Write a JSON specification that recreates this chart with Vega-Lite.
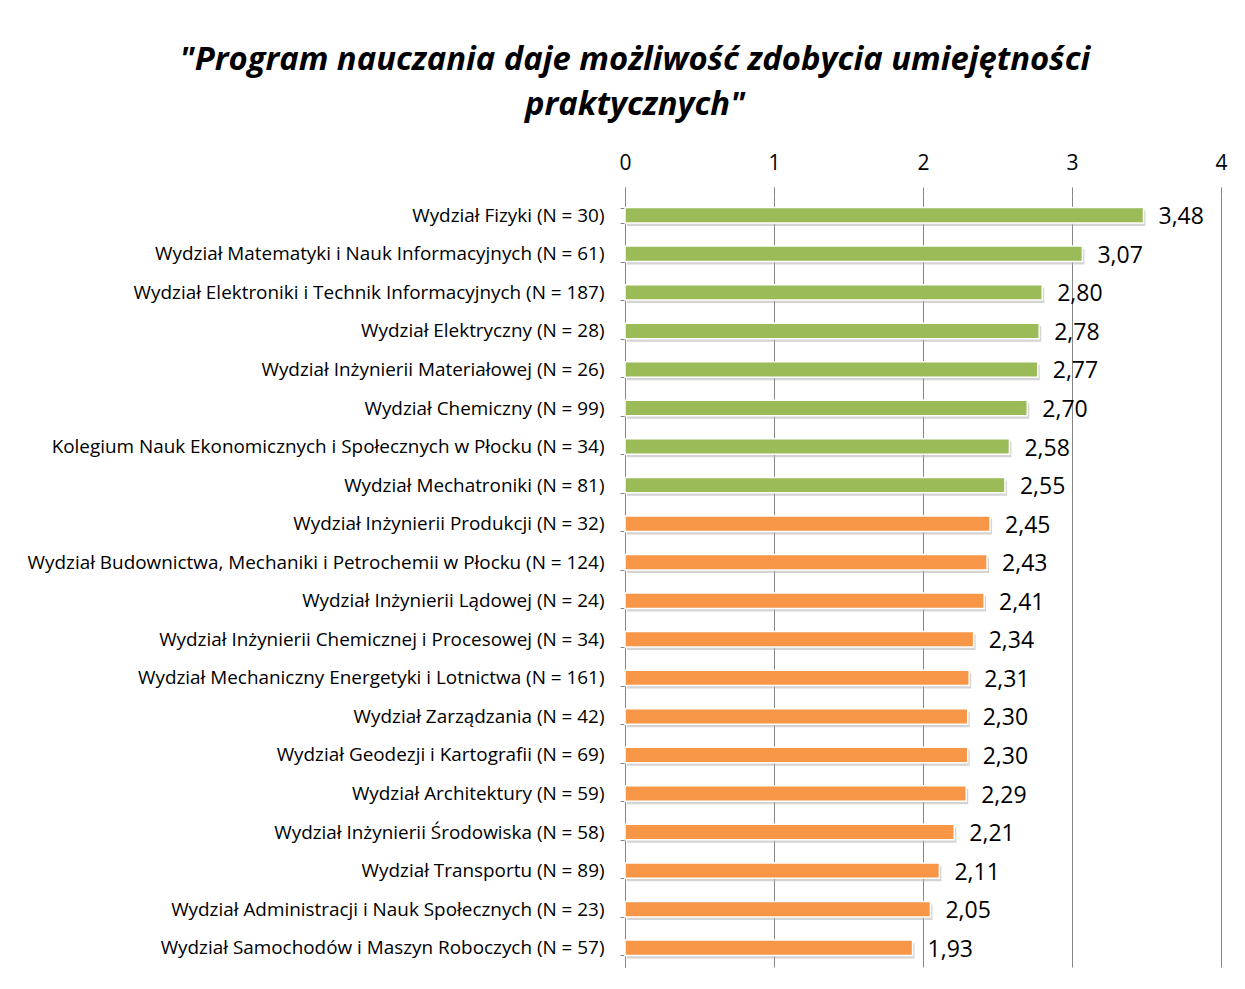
{
  "$schema": "https://vega.github.io/schema/vega-lite/v6.json",
  "autosize": {"type": "none"},
  "width": 596,
  "height": 771,
  "padding": {"left": 625, "top": 196, "right": 24, "bottom": 22},
  "background": "white",
  "config": {
    "locale": {"number": {"decimal": ",", "thousands": " ", "grouping": [3], "currency": ["", ""]}},
    "view": {"stroke": null},
    "font": "Open Sans"
  },
  "title": {
    "text": ["\"Program nauczania daje możliwość zdobycia umiejętności", "praktycznych\""],
    "font": "Open Sans",
    "fontSize": 32.8,
    "fontWeight": "bold",
    "fontStyle": "italic",
    "color": "#000000",
    "anchor": "middle",
    "dx": -288,
    "lineHeight": 45,
    "offset": 30
  },
  "data": {
    "values": [
      {"wydzial": "Wydział Fizyki (N = 30)", "srednia": 3.48, "grupa": "wysoka"},
      {"wydzial": "Wydział Matematyki i Nauk Informacyjnych (N = 61)", "srednia": 3.07, "grupa": "wysoka"},
      {"wydzial": "Wydział Elektroniki i Technik Informacyjnych (N = 187)", "srednia": 2.80, "grupa": "wysoka"},
      {"wydzial": "Wydział Elektryczny (N = 28)", "srednia": 2.78, "grupa": "wysoka"},
      {"wydzial": "Wydział Inżynierii Materiałowej (N = 26)", "srednia": 2.77, "grupa": "wysoka"},
      {"wydzial": "Wydział Chemiczny (N = 99)", "srednia": 2.70, "grupa": "wysoka"},
      {"wydzial": "Kolegium Nauk Ekonomicznych i Społecznych w Płocku (N = 34)", "srednia": 2.58, "grupa": "wysoka"},
      {"wydzial": "Wydział Mechatroniki (N = 81)", "srednia": 2.55, "grupa": "wysoka"},
      {"wydzial": "Wydział Inżynierii Produkcji (N = 32)", "srednia": 2.45, "grupa": "niska"},
      {"wydzial": "Wydział Budownictwa, Mechaniki i Petrochemii w Płocku (N = 124)", "srednia": 2.43, "grupa": "niska"},
      {"wydzial": "Wydział Inżynierii Lądowej (N = 24)", "srednia": 2.41, "grupa": "niska"},
      {"wydzial": "Wydział Inżynierii Chemicznej i Procesowej (N = 34)", "srednia": 2.34, "grupa": "niska"},
      {"wydzial": "Wydział Mechaniczny Energetyki i Lotnictwa (N = 161)", "srednia": 2.31, "grupa": "niska"},
      {"wydzial": "Wydział Zarządzania (N = 42)", "srednia": 2.30, "grupa": "niska"},
      {"wydzial": "Wydział Geodezji i Kartografii (N = 69)", "srednia": 2.30, "grupa": "niska"},
      {"wydzial": "Wydział Architektury (N = 59)", "srednia": 2.29, "grupa": "niska"},
      {"wydzial": "Wydział Inżynierii Środowiska (N = 58)", "srednia": 2.21, "grupa": "niska"},
      {"wydzial": "Wydział Transportu (N = 89)", "srednia": 2.11, "grupa": "niska"},
      {"wydzial": "Wydział Administracji i Nauk Społecznych (N = 23)", "srednia": 2.05, "grupa": "niska"},
      {"wydzial": "Wydział Samochodów i Maszyn Roboczych (N = 57)", "srednia": 1.93, "grupa": "niska"}
    ]
  },
  "encoding": {
    "y": {
      "field": "wydzial",
      "type": "nominal",
      "sort": null,
      "title": null,
      "scale": {"paddingInner": 0.6, "paddingOuter": 0.3},
      "axis": {
        "orient": "left",
        "domain": true,
        "domainColor": "#868686",
        "domainWidth": 1,
        "ticks": true,
        "tickBand": "extent",
        "tickColor": "#868686",
        "tickSize": 5,
        "labelFont": "Open Sans",
        "labelFontSize": 18.9,
        "labelColor": "#000000",
        "labelPadding": 16,
        "labelLimit": 700,
        "grid": false
      }
    },
    "x": {
      "field": "srednia",
      "type": "quantitative",
      "title": null,
      "scale": {"domain": [0, 4], "nice": false},
      "axis": {
        "orient": "top",
        "values": [0, 1, 2, 3, 4],
        "format": "d",
        "domain": false,
        "ticks": true,
        "tickSize": 9,
        "tickColor": "#868686",
        "grid": true,
        "gridColor": "#868686",
        "gridWidth": 1,
        "gridOpacity": 1,
        "labelFlush": false,
        "labelFont": "Open Sans",
        "labelFontSize": 21,
        "labelColor": "#000000",
        "labelPadding": 14
      }
    }
  },
  "layer": [
    {
      "mark": {"type": "bar", "color": "#b0b0b0", "opacity": 0.55, "xOffset": 2, "yOffset": 3},
      "encoding": {}
    },
    {
      "mark": {"type": "bar", "stroke": "white", "strokeWidth": 1.5},
      "encoding": {
        "color": {
          "field": "grupa",
          "type": "nominal",
          "scale": {"domain": ["wysoka", "niska"], "range": ["#9BBB59", "#F79646"]},
          "legend": null
        }
      }
    },
    {
      "mark": {"type": "text", "align": "left", "baseline": "middle", "dx": 15, "dy": 2, "fontSize": 23, "font": "Open Sans", "color": "#000000"},
      "encoding": {
        "text": {"field": "srednia", "type": "quantitative", "format": ".2f"}
      }
    }
  ]
}
